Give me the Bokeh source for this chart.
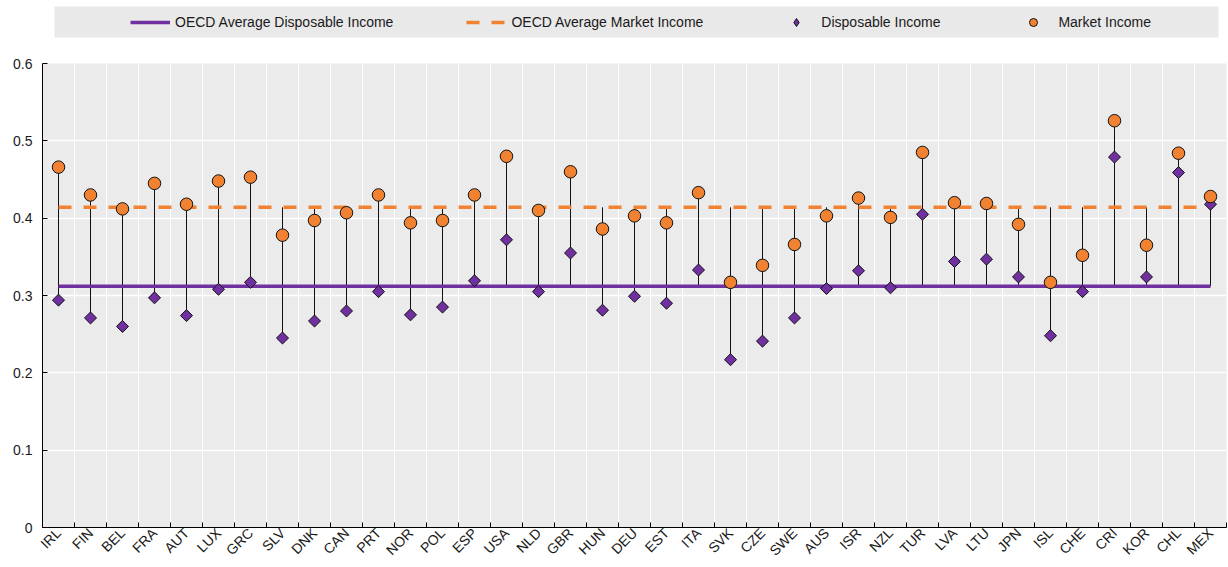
import numpy as np
from bokeh.plotting import figure
from bokeh.layouts import column
from bokeh.models import Range1d, FixedTicker, Legend, LegendItem, ColumnDataSource
from bokeh.embed import file_html
from bokeh.resources import INLINE

# ---------------- data ----------------
countries = ["IRL", "FIN", "BEL", "FRA", "AUT", "LUX", "GRC", "SLV", "DNK", "CAN",
             "PRT", "NOR", "POL", "ESP", "USA", "NLD", "GBR", "HUN", "DEU", "EST",
             "ITA", "SVK", "CZE", "SWE", "AUS", "ISR", "NZL", "TUR", "LVA", "LTU",
             "JPN", "ISL", "CHE", "CRI", "KOR", "CHL", "MEX"]
market_income = [0.466, 0.430, 0.412, 0.445, 0.418, 0.448, 0.453, 0.378, 0.397, 0.407,
                 0.430, 0.394, 0.397, 0.430, 0.480, 0.410, 0.460, 0.386, 0.403, 0.394,
                 0.433, 0.317, 0.339, 0.366, 0.403, 0.426, 0.401, 0.485, 0.420, 0.419,
                 0.392, 0.317, 0.352, 0.526, 0.365, 0.484, 0.428]
disposable_income = [0.294, 0.271, 0.260, 0.297, 0.274, 0.308, 0.317, 0.245, 0.267, 0.280,
                     0.305, 0.275, 0.285, 0.319, 0.372, 0.305, 0.355, 0.281, 0.299, 0.290,
                     0.333, 0.217, 0.241, 0.271, 0.309, 0.332, 0.310, 0.405, 0.344, 0.347,
                     0.324, 0.248, 0.305, 0.479, 0.324, 0.459, 0.418]
oecd_avg_market = 0.414
oecd_avg_disposable = 0.312
y_ticks = [0.0, 0.1, 0.2, 0.3, 0.4, 0.5, 0.6]
y_tick_labels = ["0", "0.1", "0.2", "0.3", "0.4", "0.5", "0.6"]
legend_labels = ["OECD Average Disposable Income", "OECD Average Market Income",
                 "Disposable Income", "Market Income"]

# ---------------- styles ----------------
PURPLE = "#7030a0"
ORANGE = "#f08232"
BG = "#ebebeb"
LEG_BG = "#e9e9e9"
FONT = "Liberation Sans"
FS = "14px"
TXT = "#1a1a1a"
W = 1228
LEFT, RIGHT = 42, 2
LEG_H = 45

n = len(countries)
xs = np.arange(n) + 0.5
mkt = np.array(market_income)
dsp = np.array(disposable_income)

src = ColumnDataSource(dict(
    x=xs, mkt=mkt, dsp=dsp,
    top=np.maximum(mkt, oecd_avg_market),
    bottom=np.minimum(dsp, oecd_avg_disposable),
))

p = figure(width=W, height=567 - LEG_H, x_range=Range1d(0, n), y_range=Range1d(0, 0.6),
           output_backend="svg", toolbar_location=None,
           min_border_left=LEFT, min_border_right=RIGHT, min_border_top=63 - LEG_H,
           min_border_bottom=36,
           background_fill_color=BG, border_fill_color="white", outline_line_color=None)

# stems
p.segment(x0="x", x1="x", y0="top", y1="bottom", source=src, line_color="#111111", line_width=1)
# averages
p.segment(x0=xs[0], x1=xs[-1], y0=oecd_avg_disposable, y1=oecd_avg_disposable,
          line_color=PURPLE, line_width=3.5)
p.segment(x0=xs[0], x1=xs[-1], y0=oecd_avg_market, y1=oecd_avg_market,
          line_color=ORANGE, line_width=3.5, line_dash="13 12")
# markers
p.scatter(x="x", y="dsp", source=src, marker="square", angle=np.pi / 4, size=8.5,
          fill_color=PURPLE, line_color="#111111", line_width=1)
p.scatter(x="x", y="mkt", source=src, marker="circle", size=12.5,
          fill_color=ORANGE, line_color="#111111", line_width=1)

# grids
p.xgrid.grid_line_color = None
p.xgrid.minor_grid_line_color = "white"
p.xgrid.minor_grid_line_width = 1
p.ygrid.grid_line_color = "white"
p.ygrid.grid_line_width = 1.5

# x axis
xa = p.xaxis[0]
xa.ticker = FixedTicker(ticks=list(xs), minor_ticks=list(range(0, n + 1)))
xa.major_label_overrides = {float(x): c for x, c in zip(xs, countries)}
xa.major_label_orientation = np.pi / 4
xa.major_tick_in = 0
xa.major_tick_out = 0
xa.minor_tick_in = 5
xa.minor_tick_out = 0
xa.minor_tick_line_color = "black"
xa.axis_line_color = "black"
xa.major_label_standoff = 3
xa.major_label_text_font = FONT
xa.major_label_text_font_size = FS
xa.major_label_text_color = TXT

# y axis
ya = p.yaxis[0]
ya.ticker = FixedTicker(ticks=y_ticks)
ya.major_label_overrides = {t: l for t, l in zip(y_ticks, y_tick_labels)}
ya.major_tick_in = 5
ya.major_tick_out = 0
ya.minor_tick_line_color = None
ya.axis_line_color = "black"
ya.major_tick_line_color = "black"
ya.major_label_standoff = 10
ya.major_label_text_font = FONT
ya.major_label_text_font_size = FS
ya.major_label_text_color = TXT

# ---------------- legend strip (pixel-unit coordinates) ----------------
lf = figure(width=W, height=LEG_H, x_range=Range1d(LEFT, W - RIGHT), y_range=Range1d(0, LEG_H),
            output_backend="svg", toolbar_location=None,
            x_axis_location=None, y_axis_location=None,
            min_border_left=LEFT, min_border_right=RIGHT, min_border_top=0, min_border_bottom=0,
            background_fill_color="white", border_fill_color="white", outline_line_color=None)
lf.grid.visible = False
lf.quad(left=54, right=1218, bottom=LEG_H - 37, top=LEG_H - 6, fill_color=LEG_BG, line_color=None)
off = [-100, -90]
r1 = lf.line(off, off, line_color=PURPLE, line_width=3.5)
r2 = lf.line(off, off, line_color=ORANGE, line_width=3.5, line_dash="13 12")
r3 = lf.scatter(off[:1], off[:1], marker="diamond", size=12, fill_color=PURPLE,
                line_color="#111111", line_width=1)
r4 = lf.scatter(off[:1], off[:1], marker="circle", size=10, fill_color=ORANGE,
                line_color="#111111", line_width=1)
legend = Legend(items=[LegendItem(label=lbl, renderers=[r]) for lbl, r in
                       zip(legend_labels, [r1, r2, r3, r4])],
                orientation="horizontal", location=(130 - LEFT, LEG_H - 22 - 10),
                spacing=73, glyph_width=40, glyph_height=20,
                label_standoff=5, padding=0, margin=0, border_line_color=None,
                background_fill_alpha=0,
                label_text_font=FONT, label_text_font_size=FS, label_text_color=TXT)
lf.add_layout(legend)

layout = column(lf, p, spacing=0)
open("out.html", "w").write(file_html(layout, INLINE))
